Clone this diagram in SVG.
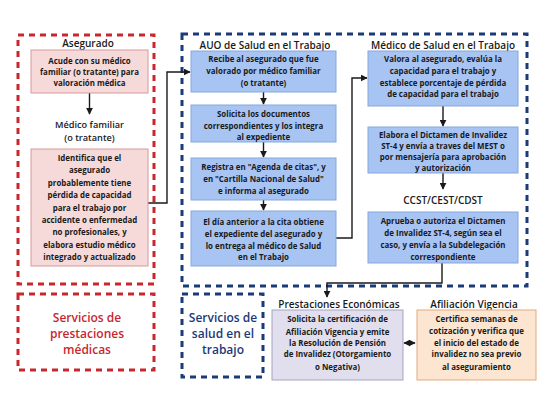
<svg xmlns="http://www.w3.org/2000/svg" width="550" height="413" viewBox="0 0 550 413">
<style>
text{font-family:"Open Sans","Noto Sans","DejaVu Sans",sans-serif;font-weight:700;fill:#1a1a1a;text-anchor:middle}
.t{font-size:7.9px}
.h{font-size:10px;font-weight:600}
.hm{font-size:9.2px;font-weight:600}
.red{fill:#f6dada;stroke:#d79a9a;stroke-width:1}
.blue{fill:#a8c4f2;stroke:#86a7de;stroke-width:1}
.lav{fill:#e1dfee;stroke:#a6a4c0;stroke-width:1}
.org{fill:#fce6d2;stroke:#e2aa7c;stroke-width:1}
.rd{fill:none;stroke:#c8272d;stroke-width:3;stroke-dasharray:6 5}
.bd{fill:none;stroke:#1b3a78;stroke-width:3;stroke-dasharray:6 5}
.c{fill:none;stroke:#1a1a1a;stroke-width:1.4}
.bigr{font-size:12px;font-weight:600;fill:#c8272d}
.bigb{font-size:12px;font-weight:600;fill:#1b3a78}
</style>
<defs>
<marker id="ah" viewBox="0 0 10 10" refX="9" refY="5" markerWidth="5" markerHeight="5" orient="auto-start-reverse">
<path d="M0,0 L10,5 L0,10 z" fill="#1a1a1a"/>
</marker>
</defs>
<rect width="550" height="413" fill="#ffffff"/>

<g id="containers">
<rect class="rd" x="18" y="35" width="136" height="249"/>
<rect class="rd" x="18" y="294" width="136" height="76"/>
<rect class="bd" x="182" y="34" width="345" height="252"/>
<rect class="bd" x="182" y="294" width="81" height="83"/>
</g>

<g id="connectors">
<path class="c" d="M89.5,93 V114" marker-end="url(#ah)"/>
<path class="c" d="M148,203 H167 V72 H190" marker-end="url(#ah)"/>
<path class="c" d="M263.5,92 V104" marker-end="url(#ah)"/>
<path class="c" d="M263.5,142 V157" marker-end="url(#ah)"/>
<path class="c" d="M263.5,200 V210" marker-end="url(#ah)"/>
<path class="c" d="M336,238 H352 V78 H367" marker-end="url(#ah)"/>
<path class="c" d="M443,106 V126" marker-end="url(#ah)"/>
<path class="c" d="M443,173 V189" marker-end="url(#ah)"/>
<path class="c" d="M442,263 V283 H327 V297" marker-end="url(#ah)"/>
<path class="c" d="M404,343 H415" stroke-width="1" marker-start="url(#ah)" marker-end="url(#ah)"/>
</g>

<g id="asegurado-title"><text class="h" x="88" y="46.5">Asegurado</text></g>

<g id="n-acude">
<rect class="red" x="31" y="50" width="117" height="43"/>
<text class="t" x="89.5" y="64">Acude con su médico</text>
<text class="t" x="89.5" y="75">familiar (o tratante) para</text>
<text class="t" x="89.5" y="86">valoración médica</text>
</g>

<g id="medico-familiar-title">
<text class="hm" x="89.5" y="128">Médico familiar</text>
<text class="hm" x="89.5" y="140.5">(o tratante)</text>
</g>

<g id="n-identifica">
<rect class="red" x="31" y="149" width="117" height="117"/>
<text class="t" x="89.5" y="161">Identifica que el</text>
<text class="t" x="89.5" y="173.4">asegurado</text>
<text class="t" x="89.5" y="185.8">probablemente tiene</text>
<text class="t" x="89.5" y="198.2">pérdida de capacidad</text>
<text class="t" x="89.5" y="210.6">para el trabajo por</text>
<text class="t" x="89.5" y="223">accidente o enfermedad</text>
<text class="t" x="89.5" y="235.4">no profesionales, y</text>
<text class="t" x="89.5" y="247.8">elabora estudio médico</text>
<text class="t" x="89.5" y="260.2">integrado y actualizado</text>
</g>

<g id="servicios-prestaciones">
<text class="bigr" x="87" y="322">Servicios de</text>
<text class="bigr" x="87" y="338">prestaciones</text>
<text class="bigr" x="87" y="354">médicas</text>
</g>

<g id="auo-title"><text class="h" x="265" y="48.5">AUO de Salud en el Trabajo</text></g>

<g id="n-recibe">
<rect class="blue" x="191" y="51" width="145" height="41"/>
<text class="t" x="263.5" y="62">Recibe al asegurado que fue</text>
<text class="t" x="263.5" y="74">valorado por médico familiar</text>
<text class="t" x="263.5" y="86">(o tratante)</text>
</g>

<g id="n-solicita">
<rect class="blue" x="191" y="105" width="145" height="37"/>
<text class="t" x="263.5" y="117">Solicita los documentos</text>
<text class="t" x="263.5" y="129">correspondientes y los integra</text>
<text class="t" x="263.5" y="140">al expediente</text>
</g>

<g id="n-registra">
<rect class="blue" x="191" y="158" width="145" height="42"/>
<text class="t" x="263.5" y="170">Registra en &quot;Agenda de citas&quot;, y</text>
<text class="t" x="263.5" y="182">en &quot;Cartilla Nacional de Salud&quot;</text>
<text class="t" x="263.5" y="194">e informa al asegurado</text>
</g>

<g id="n-dia">
<rect class="blue" x="191" y="211" width="145" height="55"/>
<text class="t" x="263.5" y="225">El día anterior a la cita obtiene</text>
<text class="t" x="263.5" y="237">el expediente del asegurado y</text>
<text class="t" x="263.5" y="249">lo entrega al médico de Salud</text>
<text class="t" x="263.5" y="260">en el Trabajo</text>
</g>

<g id="mst-title"><text class="h" x="443" y="48.5">Médico de Salud en el Trabajo</text></g>

<g id="n-valora">
<rect class="blue" x="368" y="51" width="150" height="55"/>
<text class="t" x="443" y="62">Valora al asegurado, evalúa la</text>
<text class="t" x="443" y="74">capacidad para el trabajo y</text>
<text class="t" x="443" y="86">establece porcentaje de pérdida</text>
<text class="t" x="443" y="97">de capacidad para el trabajo</text>
</g>

<g id="n-elabora">
<rect class="blue" x="368" y="127" width="150" height="46"/>
<text class="t" x="443" y="138">Elabora el Dictamen de Invalidez</text>
<text class="t" x="443" y="149">ST-4 y envía a traves del MEST o</text>
<text class="t" x="443" y="160">por mensajería para aprobación</text>
<text class="t" x="443" y="171">y autorización</text>
</g>

<g id="ccst"><text class="h" x="443" y="203.5">CCST/CEST/CDST</text></g>

<g id="n-aprueba">
<rect class="blue" x="368" y="212" width="150" height="51"/>
<text class="t" x="443" y="224">Aprueba o autoriza el Dictamen</text>
<text class="t" x="443" y="236">de Invalidez ST-4, según sea el</text>
<text class="t" x="443" y="248">caso, y envía a la Subdelegación</text>
<text class="t" x="443" y="260">correspondiente</text>
</g>

<g id="servicios-salud">
<text class="bigb" x="223" y="322">Servicios de</text>
<text class="bigb" x="223" y="338">salud en el</text>
<text class="bigb" x="223" y="354">trabajo</text>
</g>

<g id="pe-title"><text class="h" x="339" y="307.5">Prestaciones Económicas</text></g>

<g id="n-pe">
<rect class="lav" x="272" y="310" width="131" height="70"/>
<text class="t" x="337.5" y="322">Solicita la certificación de</text>
<text class="t" x="337.5" y="335">Afiliación Vigencia y emite</text>
<text class="t" x="337.5" y="346">la Resolución de Pensión</text>
<text class="t" x="337.5" y="357">de Invalidez (Otorgamiento</text>
<text class="t" x="337.5" y="370">o Negativa)</text>
</g>

<g id="av-title"><text class="h" x="474" y="307.5">Afiliación Vigencia</text></g>

<g id="n-av">
<rect class="org" x="417" y="310" width="119" height="70"/>
<text class="t" x="476.5" y="322">Certifica semanas de</text>
<text class="t" x="476.5" y="334">cotización y verifica que</text>
<text class="t" x="476.5" y="346">el inicio del estado de</text>
<text class="t" x="476.5" y="357">invalidez no sea previo</text>
<text class="t" x="476.5" y="370">al aseguramiento</text>
</g>
</svg>
